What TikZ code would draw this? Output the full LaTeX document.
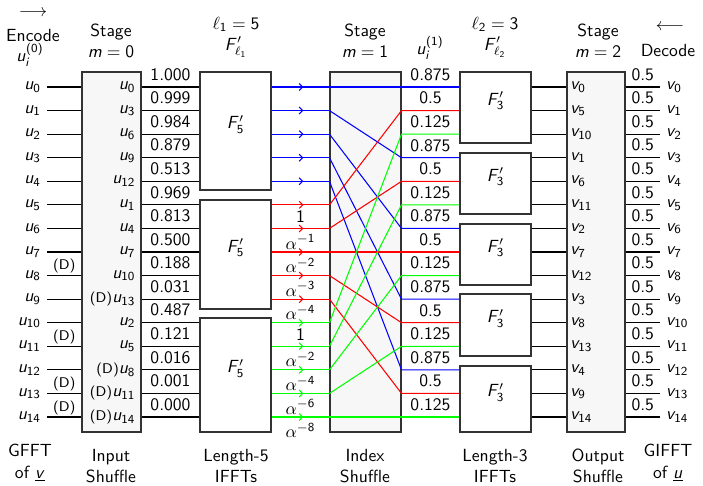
\documentclass[tikz,border=0pt]{standalone}
\usepackage{amsmath,amssymb}
\usetikzlibrary{arrows.meta, positioning, calc, fit, decorations.markings}

% sans digits and slanted sans letters in math, serif Greek
\SetSymbolFont{operators}{normal}{OT1}{cmss}{m}{n}
\DeclareSymbolFont{sfslant}{OT1}{cmss}{m}{sl}
\DeclareMathSymbol{u}{\mathalpha}{sfslant}{`u}
\DeclareMathSymbol{v}{\mathalpha}{sfslant}{`v}
\DeclareMathSymbol{i}{\mathalpha}{sfslant}{`i}
\DeclareMathSymbol{m}{\mathalpha}{sfslant}{`m}
\DeclareMathSymbol{F}{\mathalpha}{sfslant}{`F}

\newcommand{\dflag}{{\footnotesize(D)}}

\tikzset{
  stagebox/.style={draw=black!80, semithick, fill=gray!6, inner sep=0pt},
  fftbox/.style={draw=black!80, semithick, fill=white, inner sep=0pt},
  wire/.style={semithick},
  midarrow/.style={postaction={decorate}, decoration={markings,
      mark=at position 0.55 with {\arrow{Straight Barb[length=2pt,width=4pt]}}}},
}

\begin{document}
\begin{tikzpicture}[x=0.02cm, y=-0.02cm, font=\sffamily]
\useasboundingbox (0,0) rectangle (703,485);
% Row positions
\foreach \i in {0,...,14} {
    \coordinate (r\i) at (0, {87+23.57*\i});
    \coordinate (s\i) at (47, {87+23.57*\i});
    \coordinate (e\i) at (660, {87+23.57*\i});
}
% Shuffle boxes
\node[stagebox, fit={(82,72) (141,432)}] (ins) {};
\node[stagebox, fit={(330,72) (401,432)}] (idx) {};
\node[stagebox, fit={(567,72) (625,432)}] (outs) {};
% Length-5 IFFT boxes
\node[fftbox, fit={(200,72) (271,190)}] (f5a) {$F'_5$};
\node[fftbox, fit={(200,200) (271,309)}] (f5b) {$F'_5$};
\node[fftbox, fit={(200,318) (271,432)}] (f5c) {$F'_5$};
% Length-3 IFFT boxes
\node[fftbox, fit={(460,72) (531,143)}] (f3a) {$F'_3$};
\node[fftbox, fit={(460,153) (531,214)}] (f3b) {$F'_3$};
\node[fftbox, fit={(460,224) (531,285)}] (f3c) {$F'_3$};
\node[fftbox, fit={(460,294) (531,356)}] (f3d) {$F'_3$};
\node[fftbox, fit={(460,366) (531,432)}] (f3e) {$F'_3$};

% Headings
\node (enc0) at (33,13) {$\longrightarrow$};
\node (enc1) at (33,35) {Encode};
\node (enc2) at (30,55) {$u_i^{(0)}$};
\node[align=center] (st0) at (111,41) {Stage\\$m=0$};
\node[align=center] (ell1) at (236,37) {$\ell_1=5$\\$F'_{\ell_1}$};
\node[align=center] (st1) at (365,41) {Stage\\$m=1$};
\node (mid1) at (430,48) {$u_i^{(1)}$};
\node[align=center] (ell2) at (495,37) {$\ell_2=3$\\$F'_{\ell_2}$};
\node[align=center] (st2) at (598,41) {Stage\\$m=2$};
\node (dec0) at (670,27) {$\longleftarrow$};
\node (dec1) at (668,50) {Decode};

% Input wires
\foreach \i in {0,...,14} {
    \node[left] (u\i) at (s\i) {$u_{\i}$};
    \draw[wire] (s\i) -- (ins.west |- s\i);
}
\foreach \i in {8,11,13,14}
    \node[above, font=\sffamily\footnotesize, inner sep=1pt] (d\i) at ($(s\i)!0.5!(ins.west |- s\i)$) {(D)};
\foreach \i/\lbl in {0/$u_{0}$, 1/$u_{3}$, 2/$u_{6}$, 3/$u_{9}$, 4/$u_{12}$,
                     5/$u_{1}$, 6/$u_{4}$, 7/$u_{7}$, 8/$u_{10}$, 9/\dflag$u_{13}$,
                     10/$u_{2}$, 11/$u_{5}$, 12/\dflag$u_{8}$, 13/\dflag$u_{11}$, 14/\dflag$u_{14}$}
    \node[left] (p\i) at (ins.east |- r\i) {\lbl};
% Wires into the length-5 IFFTs
\foreach \i/\v in {0/1.000, 1/0.999, 2/0.984, 3/0.879, 4/0.513, 5/0.969, 6/0.813, 7/0.500,
                   8/0.188, 9/0.031, 10/0.487, 11/0.121, 12/0.016, 13/0.001, 14/0.000}
    \draw[wire] (ins.east |- r\i) -- (f5a.west |- r\i) node[midway, above] (w\i) {\v};

% Index shuffle
\foreach \a/\col in {0/blue, 1/red, 2/green}
  \foreach \b in {0,...,4} {
    \pgfmathtruncatemacro{\i}{5*\a+\b}
    \pgfmathtruncatemacro{\j}{3*\b+\a}
    \draw[wire, \col, midarrow] (f5a.east |- r\i) -- (idx.west |- r\i);
    \draw[wire, \col] (idx.west |- r\i) -- (idx.east |- r\j) -- (f3a.west |- r\j);
  }
\foreach \i/\lbl in {5/$1$, 6/$\alpha^{-1}$, 7/$\alpha^{-2}$, 8/$\alpha^{-3}$, 9/$\alpha^{-4}$,
                     10/$1$, 11/$\alpha^{-2}$, 12/$\alpha^{-4}$, 13/$\alpha^{-6}$, 14/$\alpha^{-8}$}
    \node[below] (al\i) at ($(f5a.east |- r\i)!0.5!(idx.west |- r\i)$) {\lbl};
\foreach \j/\v in {0/0.875, 1/0.5, 2/0.125, 3/0.875, 4/0.5, 5/0.125, 6/0.875, 7/0.5,
                   8/0.125, 9/0.875, 10/0.5, 11/0.125, 12/0.875, 13/0.5, 14/0.125}
    \node[above] (q\j) at ($(idx.east |- r\j)!0.5!(f3a.west |- r\j)$) {\v};

% Output shuffle
\foreach \a in {0,...,4}
  \foreach \b in {0,1,2} {
    \pgfmathtruncatemacro{\j}{3*\a+\b}
    \pgfmathtruncatemacro{\k}{5*\b+\a}
    \draw[wire] (f3a.east |- r\j) -- (outs.west |- r\j);
    \node[right, inner sep=2pt] (o\j) at (outs.west |- r\j) {$v_{\k}$};
  }
\foreach \j in {0,...,14} {
    \draw[wire] (outs.east |- e\j) -- (e\j) node[midway, above] (h\j) {0.5};
    \node[right] (v\j) at (e\j) {$v_{\j}$};
}

% Captions
\node[align=center] (c0) at (30,463) {GFFT\\of $\underline{v}$};
\node[align=center] (c1) at (111,466) {Input\\Shuffle};
\node[align=center] (c2) at (236,466) {Length-5\\IFFTs};
\node[align=center] (c3) at (365,466) {Index\\Shuffle};
\node[align=center] (c4) at (495,466) {Length-3\\IFFTs};
\node[align=center] (c5) at (598,466) {Output\\Shuffle};
\node[align=center] (c6) at (668,463) {GIFFT\\of $\underline{u}$};
\end{tikzpicture}
\end{document}
